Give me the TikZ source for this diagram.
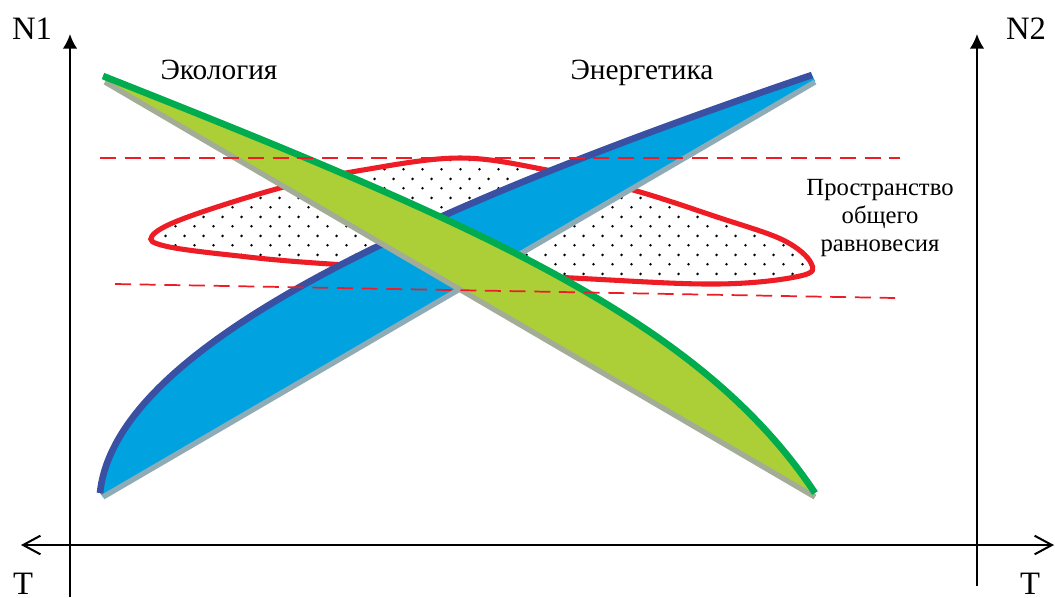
\documentclass[tikz,border=0pt]{standalone}
\usepackage{fontspec}
\setmainfont{Liberation Serif}
\usetikzlibrary{arrows.meta,patterns}
\pgfdeclarepatternformonly{sparsedots}{\pgfqpoint{0pt}{0pt}}{\pgfqpoint{14.25pt}{14.5pt}}{\pgfqpoint{14.25pt}{14.5pt}}{%
  \pgfpathcircle{\pgfqpoint{3.56pt}{3.62pt}}{1.1pt}%
  \pgfpathcircle{\pgfqpoint{10.69pt}{10.87pt}}{1.1pt}%
  \pgfusepath{fill}}
\definecolor{bandgreen}{HTML}{00AC4E}
\definecolor{fillgreen}{HTML}{ACCF38}
\definecolor{greygreen}{HTML}{A3AC96}
\definecolor{bandblue}{HTML}{3A50A2}
\definecolor{fillblue}{HTML}{00A3E0}
\definecolor{greyblue}{HTML}{8FABB6}
\definecolor{loopred}{HTML}{EE1D25}
\tikzset{
  axis/.style={line width=1.6pt,black},
  vaxis/.style={axis,-{Latex[length=11pt,width=11pt]}},
  haxis/.style={axis,{Straight Barb[length=13pt,width=14pt,line width=1.5pt]}-{Straight Barb[length=13pt,width=14pt,line width=1.5pt]}},
  bigtext/.style={font=\fontsize{24.5}{28}\selectfont,inner sep=0pt},
  title/.style={font=\fontsize{22}{26}\selectfont,inner sep=0pt,anchor=base},
  lbl/.style={font=\fontsize{18.5}{21}\selectfont,inner sep=0pt,align=center},
  dashline/.style={loopred,line width=1.3pt,dash pattern=on 12pt off 6.5pt},
}
\begin{document}
\begin{tikzpicture}[x=0.75pt,y=-0.75pt]
\useasboundingbox (0,0) rectangle (1055,597);
% equilibrium loop
\draw[loopred,line width=3.8pt,pattern=sparsedots] plot[smooth cycle,tension=0.6] coordinates {
 (152,236) (185,218) (280,188) (363,170) (460,158) (547,170) (633,190) (717,217)
 (783,240) (811,263) (800,276) (717,284) (573,278) (330,264) (230,255) (165,246)};
% energy band (blue)
\fill[fillblue] (103,497) -- (815,81) -- (812,75) .. controls (400,215) and (115,350) .. (100,493) -- cycle;
\draw[greyblue,line width=4pt] (103,497) -- (815,82);
\draw[bandblue,line width=5pt] (100,493) .. controls (115,350) and (400,215) .. (812,75);
% ecology band (green)
\fill[fillgreen] (105,81) -- (815,496) -- (815,493) .. controls (700,320) and (480,225) .. (103,76) -- cycle;
\draw[greygreen,line width=4pt] (105,82) -- (815,497);
\draw[bandgreen,line width=5pt] (103,76) .. controls (480,225) and (700,320) .. (815,493);
% dashed bounds
\coordinate (d1a) at (100,158);
\coordinate (d1b) at (900,158);
\coordinate (d2a) at (115,284);
\coordinate (d2b) at (895,298);
\draw[dashline] (d1a) -- (d1b);
\draw[dashline] (d2a) -- (d2b);
% axes
\coordinate (L0) at (70,597);
\coordinate (L1) at (70,34);
\coordinate (R0) at (977,586);
\coordinate (R1) at (977,34);
\coordinate (H0) at (21,545);
\coordinate (H1) at (1054,545);
\draw[vaxis] (L0) -- (L1);
\draw[vaxis] (R0) -- (R1);
\draw[haxis] (H0) -- (H1);
% labels
\node[bigtext] (n1) at (32,29) {N1};
\node[bigtext] (n2) at (1026,29) {N2};
\node[bigtext,anchor=base] (t1) at (23,594) {T};
\node[bigtext,anchor=base] (t2) at (1030,594) {T};
\node[title] (eco) at (219,79) {Экология};
\node[title] (ene) at (642,79) {Энергетика};
\node[lbl] (space) at (880,218) {Пространство\\общего\\равновесия};
\end{tikzpicture}
\end{document}
